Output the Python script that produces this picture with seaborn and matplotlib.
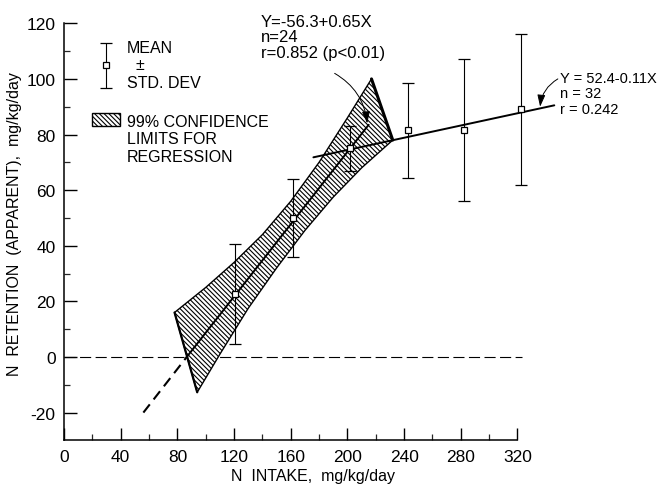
import matplotlib
matplotlib.use('Agg')
import matplotlib.pyplot as plt
import seaborn as sns
from matplotlib.patches import Patch, Rectangle
from matplotlib.ticker import FixedLocator
from matplotlib.container import ErrorbarContainer
from matplotlib.legend_handler import HandlerErrorbar, HandlerPatch

# group means +/- SD of apparent N retention
intake = [121, 161.5, 202, 242.5, 282, 322.5]
retention_mean = [22.5, 50, 75, 81.5, 81.5, 89]
retention_sd = [18, 14, 8, 17, 25.5, 27]

# regression 1 (Y = -56.3 + 0.65X), dashed below zero retention
fit1_dash_x = [56, 86.6]
fit1_dash_y = [-20, 0]
fit1_x = [86.6, 215]
fit1_y = [0, 83.5]

# regression 2 (above ~180 mg/kg/day)
fit2_x = [176, 346]
fit2_y = [71.8, 90.5]

# 99% confidence limits for regression 1
band_upper_x = [78, 100, 120, 140, 160, 180, 200, 217]
band_upper_y = [16, 25, 34, 44, 56, 70, 86, 100]
band_lower_x = [94, 110, 130, 150, 170, 190, 210, 232]
band_lower_y = [-12.7, 1, 17.5, 32, 45.5, 57.5, 68, 78]

x_ticks = [0, 40, 80, 120, 160, 200, 240, 280, 320]
x_minor = [20, 60, 100, 140, 180, 220, 260, 300]
y_ticks = [-20, 0, 20, 40, 60, 80, 100, 120]
y_minor = [-10, 10, 30, 50, 70, 90, 110]

HATCH = '\\' * 7

sns.set_theme(style='ticks')
plt.rcParams['font.family'] = ['Liberation Sans', 'DejaVu Sans']
plt.rcParams['axes.unicode_minus'] = False
plt.rcParams['hatch.linewidth'] = 0.8
plt.rcParams['text.color'] = 'black'
plt.rcParams['axes.labelcolor'] = 'black'

fig = plt.figure(figsize=(6.58, 4.85), dpi=100)
ax = fig.add_axes([0.0973, 0.0899, 0.758, 0.860])

# zero line
ax.axhline(0, xmin=0, xmax=323 / 352, color='black', lw=0.8, dashes=(10, 4))

# confidence band
poly_x = band_upper_x + band_lower_x[::-1]
poly_y = band_upper_y + band_lower_y[::-1]
ax.fill(poly_x, poly_y, facecolor='white', edgecolor='black', lw=1.0,
        hatch=HATCH, zorder=2)
ax.plot([band_upper_x[-1], band_lower_x[-1]], [band_upper_y[-1], band_lower_y[-1]],
        color='black', lw=2.2, zorder=3, solid_capstyle='round')
ax.plot([band_upper_x[0], band_lower_x[0]], [band_upper_y[0], band_lower_y[0]],
        color='black', lw=1.6, zorder=3)

# regression lines
sns.lineplot(x=fit1_dash_x, y=fit1_dash_y, ax=ax, color='black', lw=1.5, zorder=4)
ax.lines[-1].set_dashes((5, 3))
sns.lineplot(x=fit1_x, y=fit1_y, ax=ax, color='black', lw=1.4, zorder=4)
sns.lineplot(x=fit2_x, y=fit2_y, ax=ax, color='black', lw=1.4, zorder=4)

# means +/- SD
eb = ax.errorbar(intake, retention_mean, yerr=retention_sd, fmt='s', ms=5,
                 mfc='white', mec='black', mew=0.9, ecolor='black',
                 elinewidth=0.8, capsize=4, capthick=0.8, zorder=5)

# annotations
ax.text(139, 123.5, 'Y=-56.3+0.65X\nn=24\nr=0.852 (p<0.01)', fontsize=12,
        va='top', ha='left', linespacing=1.05)
ax.annotate('', xy=(214, 84), xytext=(191, 102),
            arrowprops=dict(arrowstyle='-|>,head_length=0.6,head_width=0.2',
                            connectionstyle='arc3,rad=-0.25', color='black',
                            lw=0.7, shrinkA=0, shrinkB=0), zorder=6)
ax.text(350, 103, 'Y = 52.4-0.11X\nn = 32\nr = 0.242', fontsize=10.5,
        va='top', ha='left', linespacing=1.15)
ax.annotate('', xy=(336, 90), xytext=(348.5, 100),
            arrowprops=dict(arrowstyle='-|>,head_length=0.6,head_width=0.2',
                            connectionstyle='arc3,rad=0.25', color='black',
                            lw=0.7, shrinkA=0, shrinkB=0), zorder=6)

# legend


def small_box(legend, orig_handle, xdescent, ydescent, width, height, fontsize):
    return Rectangle((-xdescent, -ydescent + 1.15 * fontsize), width, 0.85 * fontsize)


band_handle = Patch(facecolor='white', edgecolor='black', hatch=HATCH, lw=1.0)
ax.legend([eb, band_handle],
          ['MEAN\n  ±\nSTD. DEV', '99% CONFIDENCE\nLIMITS FOR\nREGRESSION'],
          handler_map={ErrorbarContainer: HandlerErrorbar(yerr_size=1.4),
                       Patch: HandlerPatch(patch_func=small_box)},
          loc='upper left', bbox_to_anchor=(0.057, 0.96), frameon=False,
          fontsize=11.5, handlelength=1.7, handletextpad=0.45,
          labelspacing=1.5, borderpad=0, borderaxespad=0)

# axes styling
ax.set_xlim(0, 352)
ax.set_ylim(-30, 120)
ax.set_xticks(x_ticks)
ax.set_yticks(y_ticks)
ax.xaxis.set_minor_locator(FixedLocator(x_minor))
ax.yaxis.set_minor_locator(FixedLocator(y_minor))
ax.tick_params(which='major', direction='in', length=9, width=1.0, labelsize=12.5,
               colors='black', pad=6)
ax.tick_params(which='minor', direction='in', length=4.5, width=0.9)
sns.despine(ax=ax)
ax.spines['bottom'].set_bounds(0, 320)
for s in ('left', 'bottom'):
    ax.spines[s].set_linewidth(1.1)
    ax.spines[s].set_color('black')

ax.set_xlabel('N  INTAKE,  mg/kg/day', fontsize=11.5, labelpad=3)
ax.set_ylabel('N  RETENTION  (APPARENT),  mg/kg/day', fontsize=11.5)
ax.yaxis.set_label_coords(-0.085, 0.52)

fig.savefig('out.png', dpi=100, facecolor='white')
